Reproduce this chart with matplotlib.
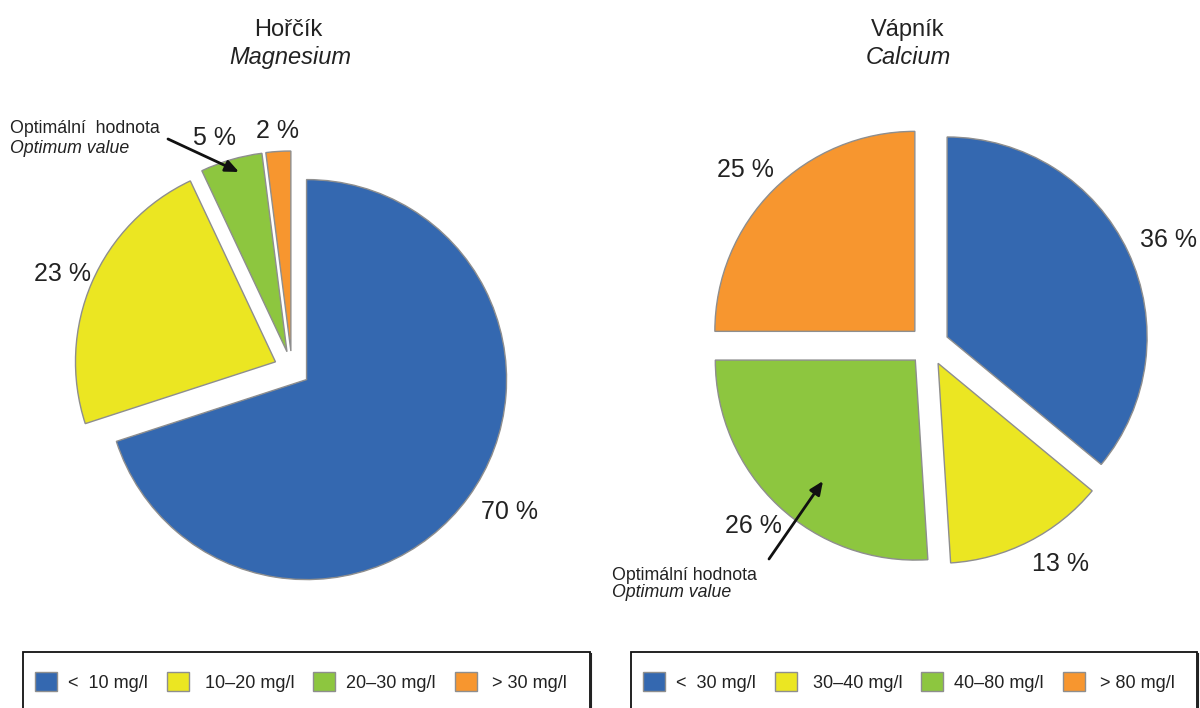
import matplotlib
matplotlib.use("Agg")
import matplotlib.pyplot as plt
import matplotlib.patches as mpatches
import numpy as np

plt.rcParams['font.family'] = ['Liberation Sans', 'DejaVu Sans']

# ---- data ----
mg_title = "Hořčík"
mg_title_en = "Magnesium"
mg_values = [70, 23, 5, 2]
mg_labels = ["<  10 mg/l", " 10–20 mg/l", "20–30 mg/l", " > 30 mg/l"]

ca_title = "Vápník"
ca_title_en = "Calcium"
ca_values = [36, 13, 26, 25]
ca_labels = ["<  30 mg/l", " 30–40 mg/l", "40–80 mg/l", " > 80 mg/l"]

colors = ["#3468B0", "#EBE622", "#8DC63F", "#F7962F"]
note_cz = "Optimální  hodnota"
note_en = "Optimum value"

# ---- layout (pixel units) ----
W, H = 1200, 708
R = 200
def Y(py):
    return H - py

fig = plt.figure(figsize=(12, 7.08), dpi=100)
ax = fig.add_axes([0, 0, 1, 1])

def draw_pie(values, center, explode_px, dists, nudges):
    wedges, texts, autotexts = ax.pie(
        values, colors=colors, startangle=90, counterclock=False,
        explode=[explode_px] * len(values), center=center, radius=R,
        autopct=lambda p: f"{p:.0f} %", pctdistance=1.15,
        wedgeprops=dict(edgecolor="#8E8E8E", linewidth=1.0),
        textprops=dict(fontsize=18, color="#222222"))
    for w, t, d, n in zip(wedges, autotexts, dists, nudges):
        th = np.deg2rad((w.theta1 + w.theta2) / 2 + n)
        cx, cy = w.center
        t.set_position((cx + d * w.r * np.cos(th), cy + d * w.r * np.sin(th)))
        t.set_ha("center"); t.set_va("center")
    return wedges

mg_w = draw_pie(mg_values, (292, Y(369)), 18, [1.21, 1.15, 1.13, 1.10], [2.8, 1.0, 2.4, 0])
ca_w = draw_pie(ca_values, (929, Y(345.5)), 20, [1.21, 1.175, 1.16, 1.17], [-1.5, 4.5, -1, 1.5])

ax.set_xlim(0, W)
ax.set_ylim(0, H)
ax.set_aspect("equal")
ax.axis("off")

# titles
ax.text(288, Y(36), mg_title, fontsize=17, ha="center", va="baseline", color="#222222")
ax.text(290, Y(64), mg_title_en, fontsize=17, style="italic", ha="center", va="baseline", color="#222222")
ax.text(908, Y(36), ca_title, fontsize=17, ha="center", va="baseline", color="#222222")
ax.text(908, Y(64), ca_title_en, fontsize=17, style="italic", ha="center", va="baseline", color="#222222")

# annotations
arrow = dict(arrowstyle="-|>,head_length=0.8,head_width=0.35", color="#111111", lw=2,
             shrinkA=0, shrinkB=0)
ax.text(10, Y(133), note_cz, fontsize=12.8, ha="left", va="baseline", color="#222222")
ax.text(10, Y(153), note_en, fontsize=12.8, style="italic", ha="left", va="baseline", color="#222222")
ax.annotate("", xy=(239, Y(172)), xytext=(168, Y(139)), arrowprops=arrow)
ax.text(612, Y(580), "Optimální hodnota", fontsize=12.8, ha="left", va="baseline", color="#222222")
ax.text(612, Y(597), note_en, fontsize=12.8, style="italic", ha="left", va="baseline", color="#222222")
ax.annotate("", xy=(823, Y(481)), xytext=(769, Y(559)), arrowprops=arrow)

# legend boxes
for x0, x1 in [(23, 590), (631, 1197)]:
    ax.add_patch(mpatches.Rectangle((x0, Y(720)), x1 - x0, 720 - 652, fill=False,
                                    edgecolor="#111111", linewidth=1.3, clip_on=False))
    ax.plot([x1 + 1, x1 + 1], [Y(654), Y(720)], color="#222222", lw=1.5, clip_on=False)

def make_legend(labels, x_px):
    handles = [mpatches.Patch(facecolor=c, edgecolor="#8E8E8E", linewidth=1.0) for c in colors]
    leg = ax.legend(handles, labels, ncol=4, loc="center left",
                    bbox_to_anchor=(x_px / W, (H - 682) / H), bbox_transform=fig.transFigure,
                    frameon=False, fontsize=13, handlelength=1.22, handleheight=1.22,
                    handletextpad=0.6, columnspacing=1.05, borderpad=0, borderaxespad=0)
    for t in leg.get_texts():
        t.set_color("#222222")
    return leg

leg1 = make_legend(mg_labels, 35)
ax.add_artist(leg1)
leg2 = make_legend(ca_labels, 643)

fig.savefig("out.png", dpi=100)
